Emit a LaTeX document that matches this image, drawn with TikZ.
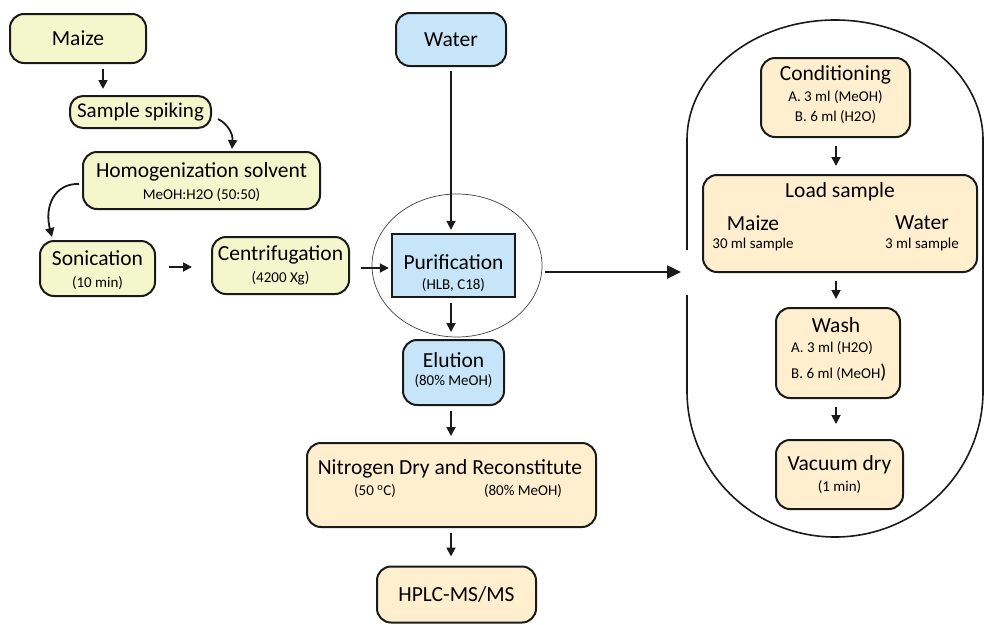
\documentclass[tikz,border=0pt]{standalone}
\usepackage{fontspec}
\setmainfont{Carlito}
\usetikzlibrary{arrows.meta,shapes.geometric}
\definecolor{ylw}{HTML}{F4F7CC}
\definecolor{blu}{HTML}{C6E5F8}
\definecolor{org}{HTML}{FFEFCE}
\definecolor{edge}{HTML}{1A1A1A}
\begin{document}
\begin{tikzpicture}[x=1pt,y=-1pt,
  box/.style={draw=edge, line width=2pt, rounded corners=14pt, inner sep=0pt},
  ybox/.style={box, fill=ylw},
  bbox/.style={box, fill=blu},
  obox/.style={box, fill=org},
  big/.style={inner sep=0pt, font=\fontsize{21.5}{24}\selectfont},
  sm/.style={inner sep=0pt, font=\fontsize{15}{17}\selectfont},
  arr/.style={-{Triangle[length=9pt,width=9pt]}, line width=1.8pt, draw=edge},
  bigarr/.style={-{Triangle[length=14pt,width=13pt]}, line width=2.5pt, draw=edge}
]
\useasboundingbox (0,0) rectangle (984,624);

% ---------- left column ----------
\node[ybox, minimum width=136pt, minimum height=49pt, font=\fontsize{21.5}{24}\selectfont] (maize) at (78,38.5) {Maize};
\node[ybox, rounded corners=13pt, minimum width=141pt, minimum height=32pt, font=\fontsize{21}{24}\selectfont] (ss) at (140.5,112) {Sample spiking};
\node[ybox, minimum width=237pt, minimum height=57pt] (hom) at (201.5,180.5) {};
\node[big] (homt) at (201.5,172) {Homogenization solvent};
\node[sm] (homs) at (201.5,195) {MeOH:H2O (50:50)};
\node[ybox, minimum width=115pt, minimum height=55pt] (son) at (97.5,268.5) {};
\node[big] (sont) at (97.5,258) {Sonication};
\node[sm] (sons) at (97.5,283) {(10 min)};
\node[ybox, minimum width=137pt, minimum height=57pt] (cen) at (280.5,265.5) {};
\node[big] (cent) at (280.5,255) {Centrifugation};
\node[sm] (cens) at (280.5,278) {(4200 Xg)};

% ---------- centre column ----------
\node[bbox, minimum width=110pt, minimum height=53pt, font=\fontsize{21.5}{24}\selectfont] (wat) at (451,39.5) {Water};
\node[ellipse, draw=black!75, line width=0.7pt, minimum width=170pt, minimum height=143pt, inner sep=0pt] (ring) at (457,265.5) {};
\node[bbox, rounded corners=0pt, line width=2.3pt, minimum width=123pt, minimum height=63pt] (pur) at (453.5,265.5) {};
\node[big] (purt) at (453.5,262) {Purification};
\node[sm] (purs) at (453.5,285) {(HLB, C18)};
\node[bbox, minimum width=101pt, minimum height=65pt] (elu) at (453.5,372.5) {};
\node[big] (elut) at (453.5,360) {Elution};
\node[sm] (elus) at (453.5,381) {(80\% MeOH)};
\node[obox, minimum width=289pt, minimum height=84pt] (nit) at (451.5,485) {};
\node[big] (nitt) at (450,469) {Nitrogen Dry and Reconstitute};
\node[sm] (nits1) at (375,491) {(50 \textsuperscript{o}C)};
\node[sm] (nits2) at (523,491) {(80\% MeOH)};
\node[obox, minimum width=159pt, minimum height=56pt, font=\fontsize{21.5}{24}\selectfont] (hplc) at (456.5,594.5) {HPLC-MS/MS};

% ---------- right panel ----------
\draw[line width=1.6pt, draw=edge] (687,250) -- (687,140)
  arc[start angle=180, end angle=360, x radius=148, y radius=120]
  -- (983,391)
  arc[start angle=0, end angle=180, x radius=148, y radius=146]
  -- (687,295);
\coordinate (pin) at (687,272);
\node[obox, minimum width=149pt, minimum height=79pt] (con) at (835.5,97.5) {};
\node[big] (cont) at (835.5,75) {Conditioning};
\node[sm] (cons1) at (835.5,97) {A. 3 ml (MeOH)};
\node[sm] (cons2) at (835.5,117) {B. 6 ml (H2O)};
\node[obox, minimum width=274pt, minimum height=97pt] (lod) at (840,223.5) {};
\node[big] (lodt) at (840,192) {Load sample};
\node[big] (lodm) at (753,223) {Maize};
\node[big] (lodw) at (922,223) {Water};
\node[sm] (lodms) at (753,244) {30 ml sample};
\node[sm] (lodws) at (922,244) {3 ml sample};
\node[obox, minimum width=124pt, minimum height=90pt] (was) at (838,353) {};
\node[big] (wast) at (836,325) {Wash};
\node[sm, anchor=west] (wass1) at (791,348) {A. 3 ml (H2O)};
\node[sm, anchor=west] (wass2) at (791,373) {B. 6 ml (MeOH{\fontsize{20}{20}\selectfont )}};
\node[obox, minimum width=127pt, minimum height=69pt] (vac) at (839.5,474.5) {};
\node[big] (vact) at (839.5,465) {Vacuum dry};
\node[sm] (vacs) at (839.5,487) {(1 min)};

% ---------- connectors ----------
\draw[arr] ([shift={(25,5)}]maize.south) -- ([shift={(-37.5,-6)}]ss.north);
\draw[arr] ([shift={(6,7)}]ss.east) .. controls (228,124) and (233,134) .. ([shift={(30.5,-2)}]hom.north);
\draw[arr] ([shift={(-3,3.5)}]hom.west) .. controls (55,183) and (44,206) .. ([shift={(-45.5,-3)}]son.north);
\draw[arr] ([shift={(13,-1.5)}]son.east) -- ([shift={(-19,1.5)}]cen.west);
\draw[arr] ([shift={(11,2.5)}]cen.east) -- ([shift={(-2,2.5)}]pur.west);
\draw[arr] ([shift={(0,4)}]wat.south) -- ([shift={(-2.5,-3)}]pur.north);
\draw[arr] ([shift={(-2.5,5)}]pur.south) -- ([shift={(-2.5,-7)}]elu.north);
\draw[arr] ([shift={(-2.5,5)}]elu.south) -- ([shift={(-0.5,-6)}]nit.north);
\draw[arr] ([shift={(-0.5,5)}]nit.south) -- ([shift={(-5.5,-9)}]hplc.north);
\draw[bigarr] ([shift={(3,6.5)}]ring.east) -- ([shift={(-6,0)}]pin);
\draw[arr] ([shift={(0.5,8)}]con.south) -- ([shift={(-4,-8)}]lod.north);
\draw[arr] ([shift={(-4,8)}]lod.south) -- ([shift={(-2,-8)}]was.north);
\draw[arr] ([shift={(-2,8)}]was.south) -- ([shift={(-3.5,-15)}]vac.north);
\end{tikzpicture}
\end{document}
